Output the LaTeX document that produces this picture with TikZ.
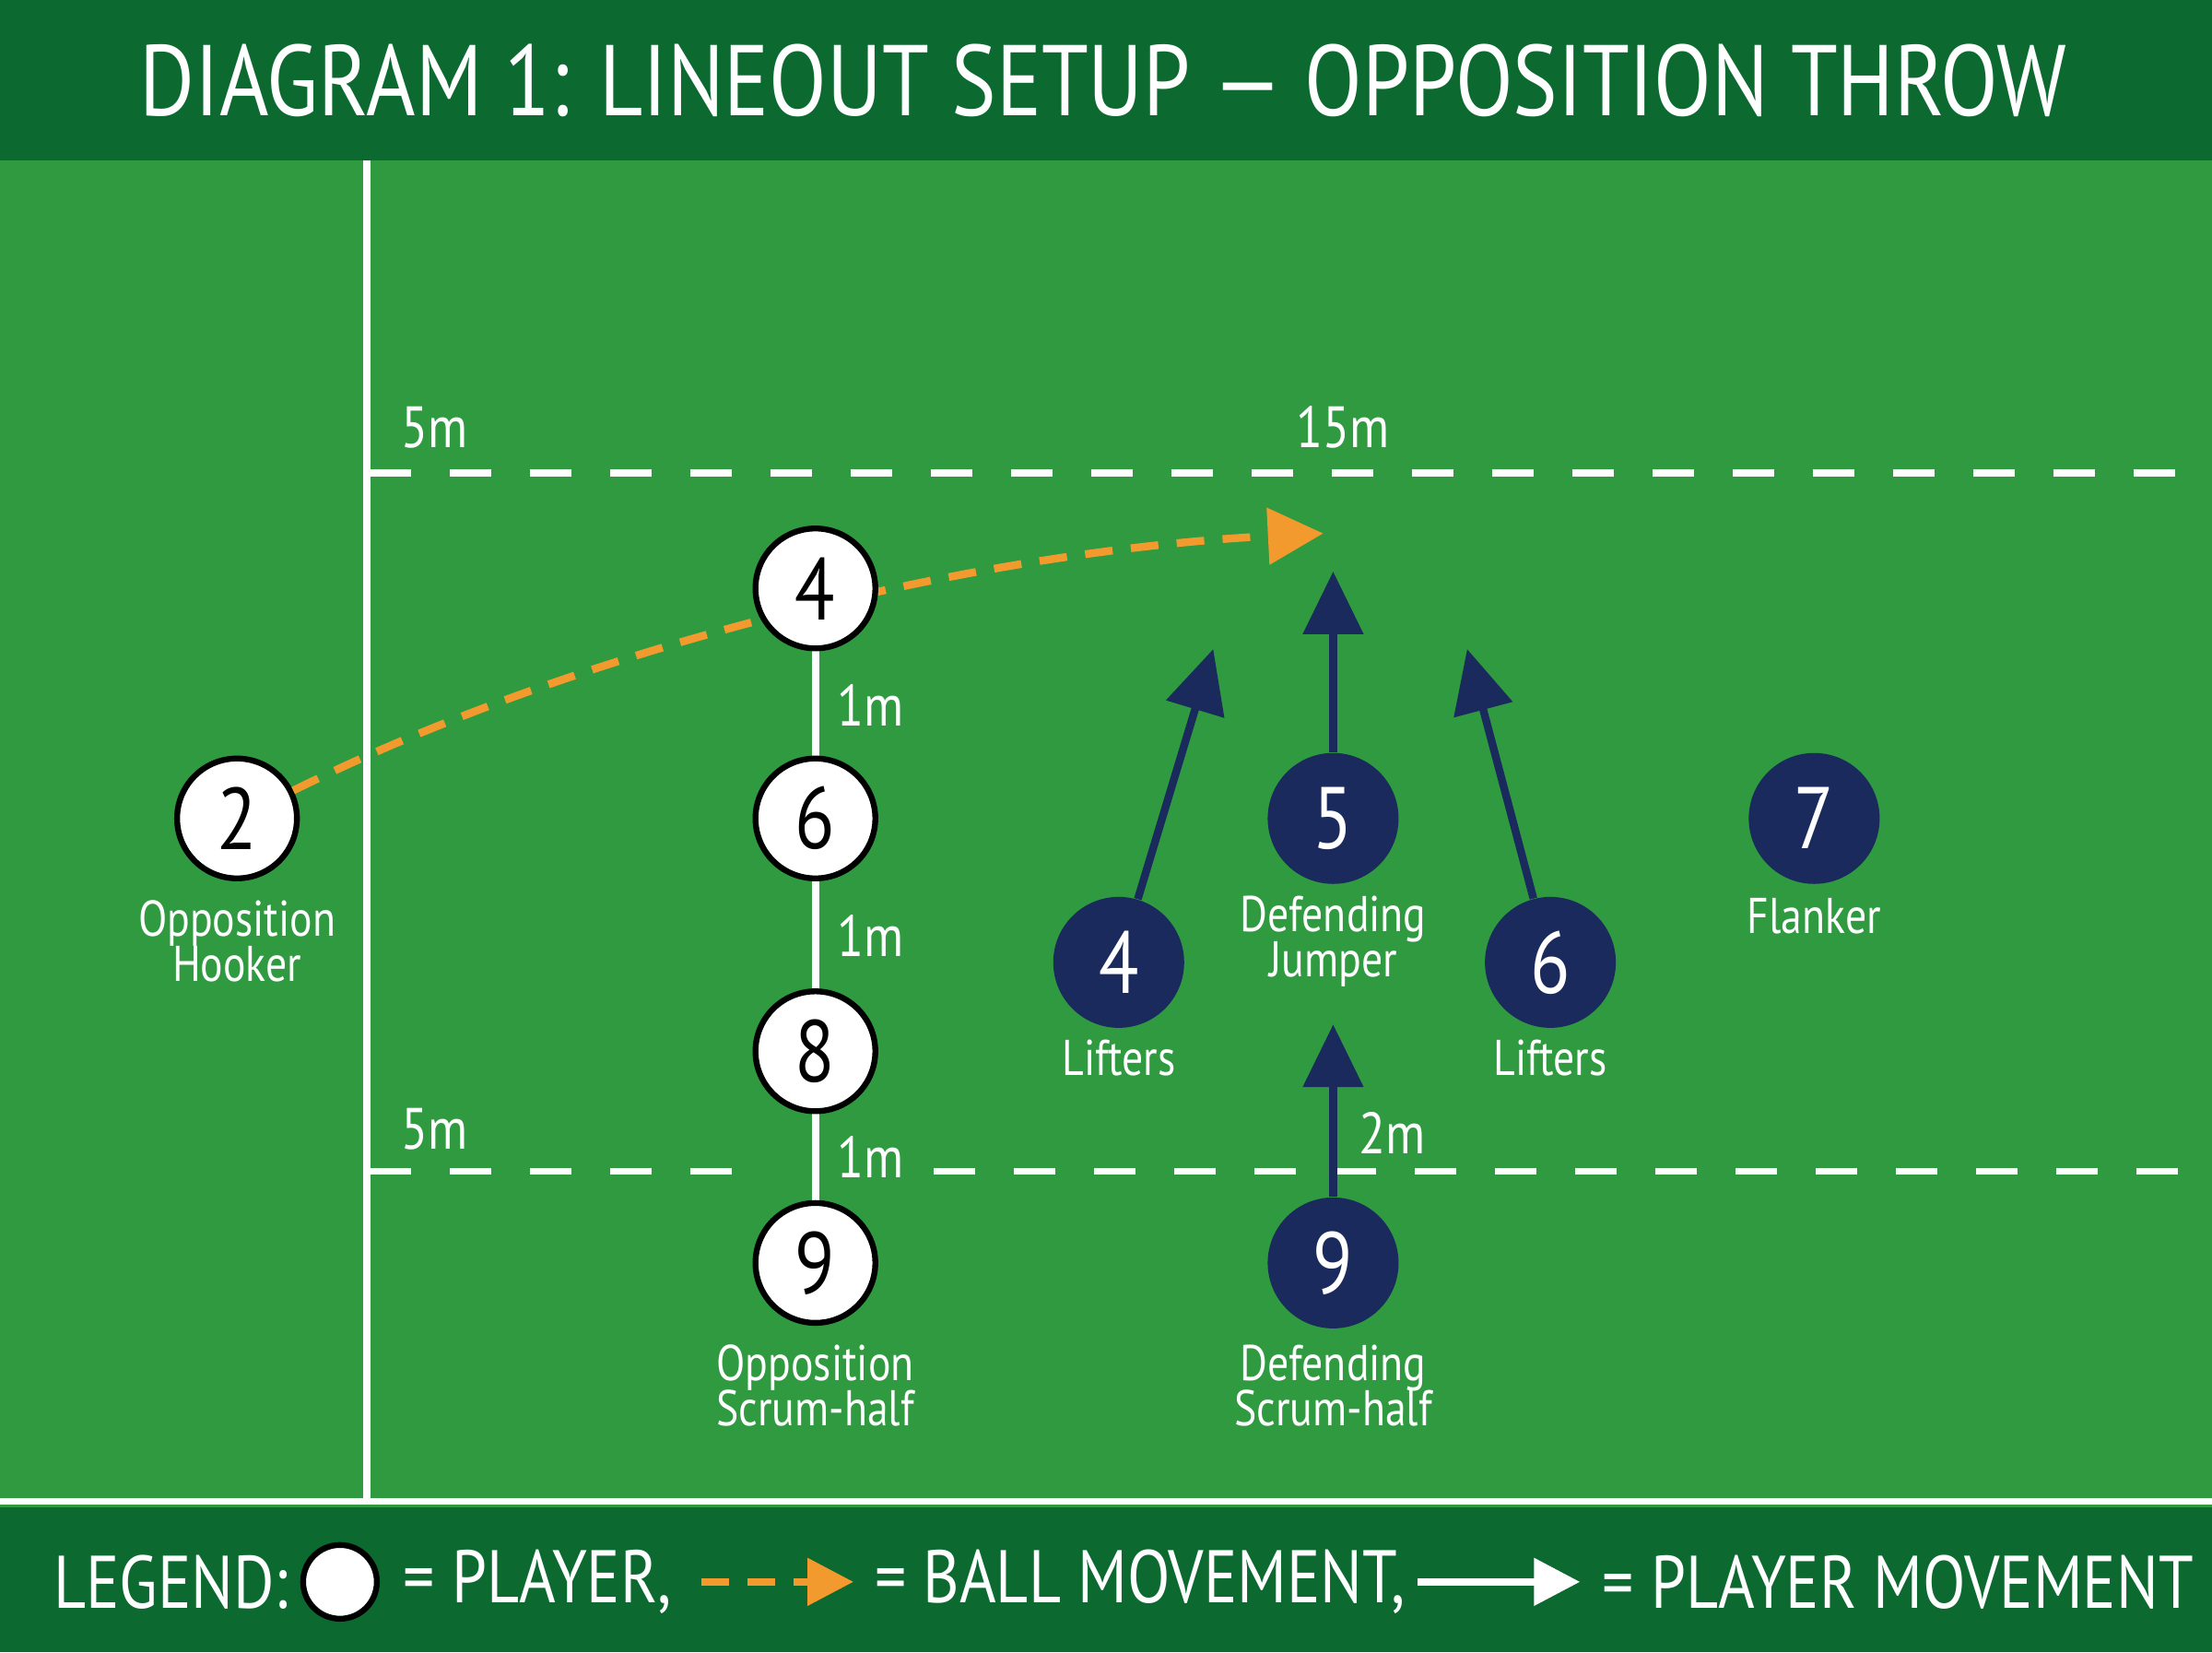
\documentclass[tikz,border=0pt]{standalone}
\usepackage{fontspec}
\setmainfont{PT Sans}[FakeStretch=0.84]
\usepackage{tikz}
\usetikzlibrary{arrows.meta}
\definecolor{pitch}{HTML}{2F9A3F}
\definecolor{bar}{HTML}{0C6A30}
\definecolor{navy}{HTML}{1B2A5C}
\definecolor{ball}{HTML}{F39A2E}
\tikzset{
  opp/.style={circle, draw=black, line width=1.8pt, fill=white, minimum size=1.3cm, inner sep=0pt, font=\fontsize{27}{27}\selectfont},
  def/.style={circle, fill=navy, minimum size=1.42cm, inner sep=0pt, text=white, font=\fontsize{27}{27}\selectfont},
  lbl/.style={text=white, align=center, font=\fontsize{15.5}{17}\selectfont},
  dist/.style={text=white, font=\fontsize{18}{18}\selectfont},
  chalk/.style={white, line width=2.2pt},
  chalkdash/.style={white, line width=2.2pt, dash pattern=on 0.45cm off 0.42cm},
  move/.style={navy, line width=2.4pt, -{Triangle[length=0.68cm, width=0.64cm]}},
  throw/.style={ball, line width=2.4pt, dash pattern=on 0.3cm off 0.2cm, -{Triangle[length=0.6cm, width=0.6cm]}},
}
\begin{document}
\begin{tikzpicture}[x=0.015306cm, y=-0.015306cm]
\useasboundingbox (0,0) rectangle (1568,1171);
% pitch and bars
\fill[pitch] (0,0) rectangle (1568,1171);
\fill[bar] (0,0) rectangle (1568,114);
\fill[bar] (0,1068) rectangle (1568,1171);
\node[text=white, font=\fontsize{31}{31}\selectfont] (title) at (782,57) {DIAGRAM 1: LINEOUT SETUP — OPPOSITION THROW};

% lines
\coordinate (tl) at (260,114);
\coordinate (bl) at (260,1064);
\draw[chalk] (tl) -- (bl);
\draw[chalk] (0,1064) -- (1568,1064);
\draw[chalkdash] (262,335) -- (1568,335);
\draw[chalkdash] (262,830) -- (530,830);
\draw[chalkdash] (662,830) -- (1568,830);
\node[dist] (fiveA) at (308,303) {5m};
\node[dist] (fifteen) at (952,303) {15m};
\node[dist] (fiveB) at (308,800) {5m};

% opposition lineout
\coordinate (o4) at (578,417);
\coordinate (o9) at (578,895);
\draw[chalk] (o4) -- (o9);
\node[opp] (h2) at (168,580) {2};
\draw[throw] (h2) .. controls (420,455) and (700,390) .. (938,378);
\node[opp] (p4) at (o4) {4};
\node[opp] (p6) at (578,580) {6};
\node[opp] (p8) at (578,745) {8};
\node[opp] (p9) at (o9) {9};
\node[dist] (gapA) at (617,500) {1m};
\node[dist] (gapB) at (617,663) {1m};
\node[dist] (gapC) at (617,820) {1m};
\node[lbl] (hookerlbl) at (168,667) {Opposition\\[-3pt]Hooker};
\node[lbl] (shlbl) at (578,982) {Opposition\\[-3pt]Scrum-half};

% defending players
\node[def] (d4) at (793,682) {4};
\node[def] (d5) at (945,580) {5};
\node[def] (d6) at (1099,682) {6};
\node[def] (d7) at (1286,580) {7};
\node[def] (d9) at (945,895) {9};
\coordinate (t4) at (860,460);
\coordinate (t5) at (945,405);
\coordinate (t6) at (1040,460);
\coordinate (t9) at (945,726);
\draw[move] (d4) -- (t4);
\draw[move] (d5) -- (t5);
\draw[move] (d6) -- (t6);
\draw[move] (d9) -- (t9);
\node[dist] (gapD) at (987,803) {2m};
\node[lbl] (jlbl) at (945,667) {Defending\\[-3pt]Jumper};
\node[lbl] (llbl) at (793,750) {Lifters};
\node[lbl] (rlbl) at (1099,750) {Lifters};
\node[lbl] (flbl) at (1286,649) {Flanker};
\node[lbl] (dshlbl) at (945,982) {Defending\\[-3pt]Scrum-half};

% legend
\node[text=white, anchor=west, font=\fontsize{23}{23}\selectfont] (leg) at (30,1121) {LEGEND:};
\node[circle, draw=black, line width=1.8pt, fill=white, minimum size=0.8cm] (legc) at (241,1121) {};
\node[text=white, anchor=west, font=\fontsize{23}{23}\selectfont] (legp) at (278,1121) {= PLAYER,};
\coordinate (lba) at (497,1121);
\coordinate (lbb) at (605,1121);
\draw[ball, line width=2.4pt, dash pattern=on 0.3cm off 0.2cm, -{Triangle[length=0.5cm, width=0.5cm]}] (lba) -- (lbb);
\node[text=white, anchor=west, font=\fontsize{23}{23}\selectfont] (legb) at (612,1121) {= BALL MOVEMENT,};
\coordinate (lma) at (1005,1121);
\coordinate (lmb) at (1120,1121);
\draw[white, line width=2.4pt, -{Triangle[length=0.5cm, width=0.5cm, open, fill=white]}] (lma) -- (lmb);
\node[text=white, anchor=west, font=\fontsize{23}{23}\selectfont] (legm) at (1128,1121) {= PLAYER MOVEMENT};
\end{tikzpicture}
\end{document}
